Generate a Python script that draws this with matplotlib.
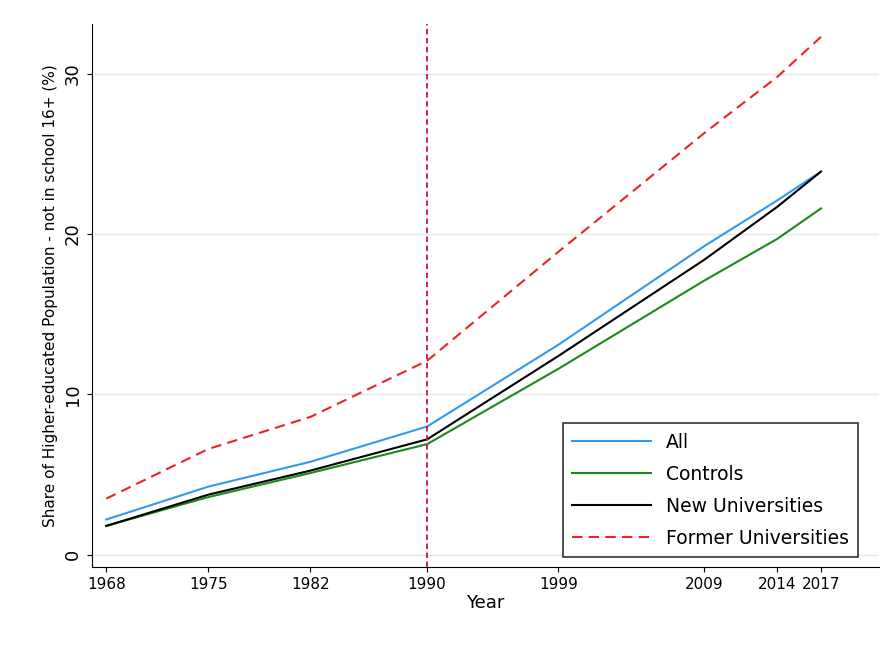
import matplotlib.pyplot as plt

years = [1968, 1975, 1982, 1990, 1999, 2009, 2014, 2017]
all_share = [2.2, 4.25, 5.8, 8.0, 13.1, 19.25, 22.1, 23.9]
controls = [1.8, 3.6, 5.1, 6.9, 11.6, 17.1, 19.7, 21.6]
new_univ = [1.8, 3.75, 5.25, 7.2, 12.4, 18.4, 21.7, 23.9]
former_univ = [3.5, 6.6, 8.6, 12.1, 18.9, 26.3, 29.8, 32.3]

fig = plt.figure(figsize=(8.9, 6.5), dpi=100)
ax = fig.add_axes([0.103, 0.128, 0.885, 0.835])

ax.plot(years, all_share, color="#3399ee", lw=1.5, label="All")
ax.plot(years, controls, color="#1a8a1a", lw=1.5, label="Controls")
ax.plot(years, new_univ, color="black", lw=1.5, label="New Universities")
ax.plot(years, former_univ, color="#ee2222", lw=1.5, ls=(0, (5, 3)), label="Former Universities")
ax.axvline(1990, color="#cc1144", lw=1.3, ls=(0, (3, 2)))

ax.set_xlim(1967, 2021)
ax.set_ylim(-0.75, 33.1)
ax.set_xticks(years)
ax.set_xticklabels(["1968", "1975", "1982", "1990", "1999", "2009", "2014", "2017"], fontsize=11)
ax.set_yticks([0, 10, 20, 30])
ax.set_yticklabels(["0", "10", "20", "30"], rotation=90, va="center", fontsize=13)
ax.grid(axis="y", color="#e6e6e6", lw=1)
ax.set_axisbelow(True)
for s in ["top", "right"]:
    ax.spines[s].set_visible(False)

ax.set_xlabel("Year", fontsize=13, labelpad=2)
ax.set_ylabel("Share of Higher-educated Population - not in school 16+ (%)", fontsize=11)

leg = ax.legend(loc="lower right", fontsize=13.5, fancybox=False, edgecolor="black",
                handlelength=4.2, labelspacing=0.7, borderpad=0.5,
                bbox_to_anchor=(0.985, 0.0))
leg.get_frame().set_linewidth(1.2)

fig.savefig("out.png", dpi=100)
